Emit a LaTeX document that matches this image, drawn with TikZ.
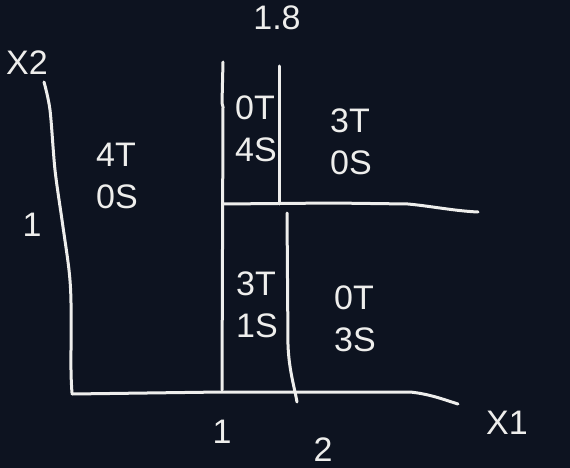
\documentclass[tikz,border=0pt]{standalone}
\usepackage{fontspec}
\setmainfont{Liberation Sans}
\definecolor{bg}{RGB}{13,19,32}
\definecolor{ink}{RGB}{238,238,236}
\begin{document}
\begin{tikzpicture}[x=1pt,y=-1pt,
  stroke/.style={draw=ink,line width=3pt,line cap=round,line join=round},
  lbl/.style={text=ink,font=\fontsize{34}{42}\selectfont,inner sep=0pt,align=left}]
\fill[bg] (0,0) rectangle (570,468);
\useasboundingbox (0,0) rectangle (570,468);
% axes
\draw[stroke] plot[smooth,tension=0.5] coordinates {(44,82) (50,110) (55,170) (62,220) (69,270) (71,303) (71,370) (72,393)};
\draw[stroke] (72,394) -- (222,392) -- (410,392) .. controls (430,394) and (445,400) .. (458,404);
% verticals
\draw[stroke] (223,62) -- (222,103) -- (223,107) -- (222,390);
\draw[stroke] (279,66) -- (279,204);
\draw[stroke] (287,213) -- (288,345) .. controls (289,370) and (294,385) .. (297,402);
% horizontal divider
\draw[stroke] (223,204) -- (333,203) -- (408,204) .. controls (430,206) and (455,211) .. (478,212);
% labels
\node[lbl] (t18) at (277,18) {1.8};
\node[lbl] (x2) at (27,63) {X2};
\node[lbl] (one2) at (32,225) {1};
\node[lbl] (a) at (117,176) {4T\\0S};
\node[lbl] (b) at (256,129) {0T\\4S};
\node[lbl] (c) at (351,142) {3T\\0S};
\node[lbl] (d) at (257,305) {3T\\1S};
\node[lbl] (e) at (355,319) {0T\\3S};
\node[lbl] (one1) at (222,432) {1};
\node[lbl] (two) at (323,450) {2};
\node[lbl] (x1) at (507,423) {X1};
\end{tikzpicture}
\end{document}
